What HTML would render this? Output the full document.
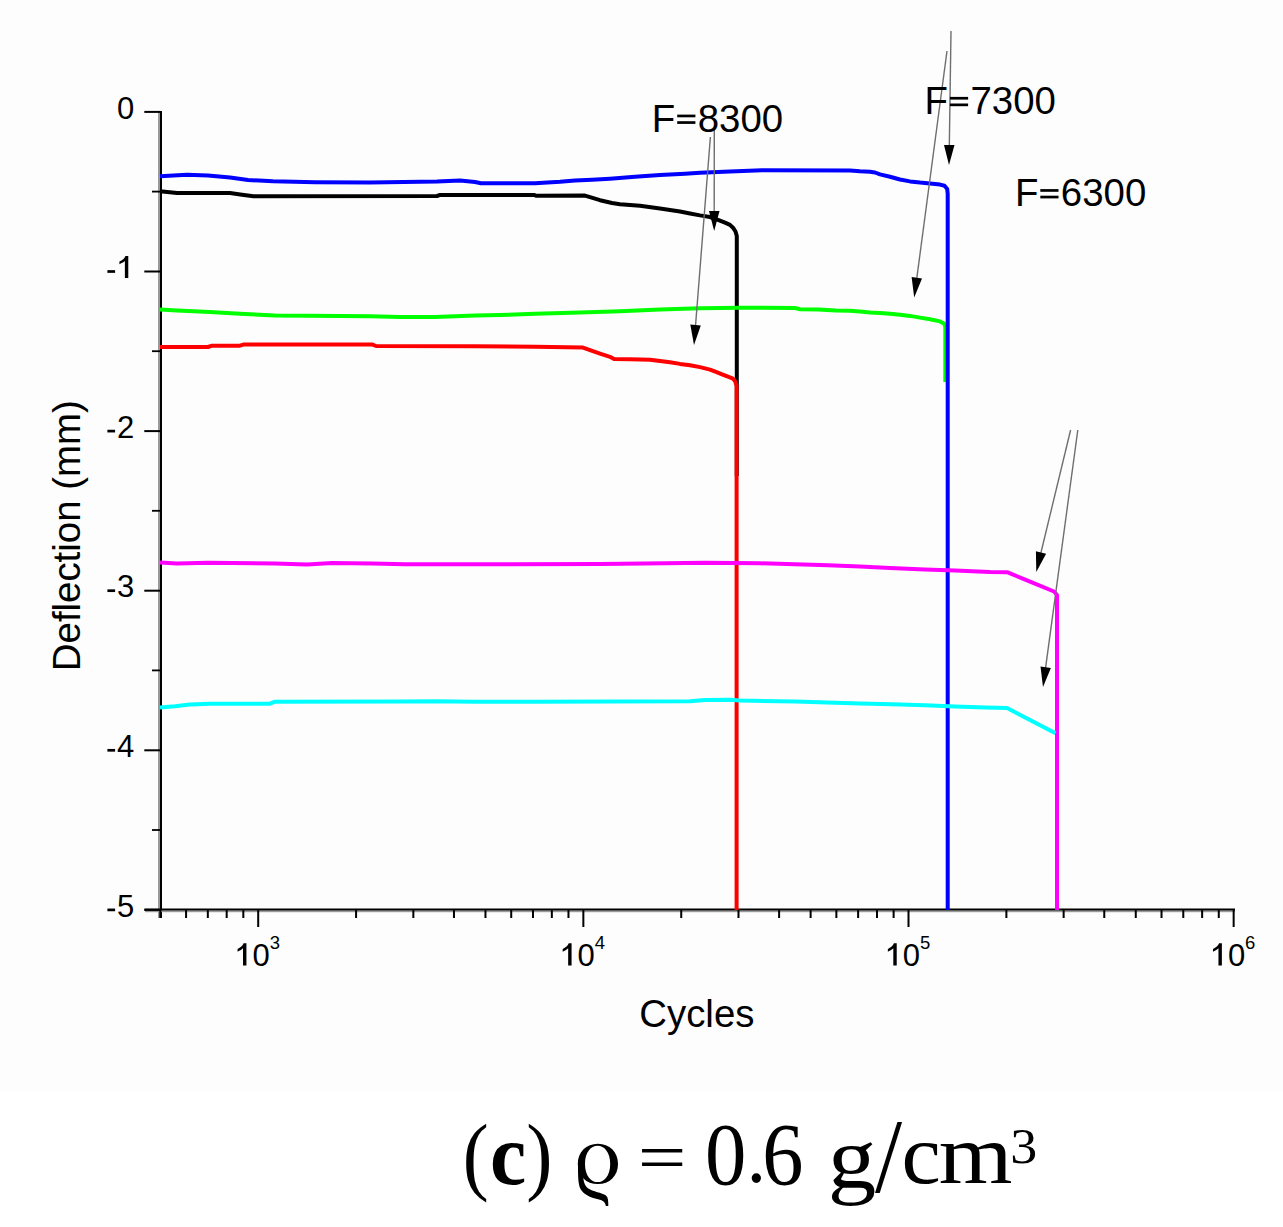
<!DOCTYPE html>
<html><head><meta charset="utf-8"><style>
html,body{margin:0;padding:0;background:#fff;}
body{width:1283px;height:1227px;overflow:hidden;}
svg{display:block;}
</style></head><body>
<svg width="1283" height="1227" viewBox="0 0 1283 1227">
<rect width="1283" height="1092" fill="#fdfdfd"/>
<rect x="158" y="111" width="2" height="807" fill="#9a9a9a"/>
<rect x="160" y="111" width="2" height="807" fill="#000"/>
<rect x="145" y="910.4" width="1090" height="1.8" fill="#9a9a9a"/>
<rect x="144.5" y="908.5" width="1090.5" height="2" fill="#000"/>
<rect x="144.3" y="110.90" width="16" height="2" fill="#000"/>
<rect x="152" y="190.70" width="8" height="1.8" fill="#000"/>
<rect x="144.3" y="270.50" width="16" height="2" fill="#000"/>
<rect x="152" y="350.30" width="8" height="1.8" fill="#000"/>
<rect x="144.3" y="430.10" width="16" height="2" fill="#000"/>
<rect x="152" y="509.90" width="8" height="1.8" fill="#000"/>
<rect x="144.3" y="589.70" width="16" height="2" fill="#000"/>
<rect x="152" y="669.50" width="8" height="1.8" fill="#000"/>
<rect x="144.3" y="749.30" width="16" height="2" fill="#000"/>
<rect x="152" y="829.10" width="8" height="1.8" fill="#000"/>
<rect x="144.3" y="908.90" width="16" height="2" fill="#000"/>
<rect x="159.32" y="909" width="2" height="9" fill="#000"/>
<rect x="185.07" y="909" width="2" height="9" fill="#000"/>
<rect x="206.83" y="909" width="2" height="9" fill="#000"/>
<rect x="225.69" y="909" width="2" height="9" fill="#000"/>
<rect x="242.32" y="909" width="2" height="9" fill="#000"/>
<rect x="257.20" y="909" width="2" height="18" fill="#000"/>
<rect x="355.08" y="909" width="2" height="9" fill="#000"/>
<rect x="412.34" y="909" width="2" height="9" fill="#000"/>
<rect x="452.96" y="909" width="2" height="9" fill="#000"/>
<rect x="484.47" y="909" width="2" height="9" fill="#000"/>
<rect x="510.22" y="909" width="2" height="9" fill="#000"/>
<rect x="531.98" y="909" width="2" height="9" fill="#000"/>
<rect x="550.84" y="909" width="2" height="9" fill="#000"/>
<rect x="567.47" y="909" width="2" height="9" fill="#000"/>
<rect x="582.35" y="909" width="2" height="18" fill="#000"/>
<rect x="680.23" y="909" width="2" height="9" fill="#000"/>
<rect x="737.49" y="909" width="2" height="9" fill="#000"/>
<rect x="778.11" y="909" width="2" height="9" fill="#000"/>
<rect x="809.62" y="909" width="2" height="9" fill="#000"/>
<rect x="835.37" y="909" width="2" height="9" fill="#000"/>
<rect x="857.13" y="909" width="2" height="9" fill="#000"/>
<rect x="875.99" y="909" width="2" height="9" fill="#000"/>
<rect x="892.62" y="909" width="2" height="9" fill="#000"/>
<rect x="907.50" y="909" width="2" height="18" fill="#000"/>
<rect x="1005.38" y="909" width="2" height="9" fill="#000"/>
<rect x="1062.64" y="909" width="2" height="9" fill="#000"/>
<rect x="1103.26" y="909" width="2" height="9" fill="#000"/>
<rect x="1134.77" y="909" width="2" height="9" fill="#000"/>
<rect x="1160.52" y="909" width="2" height="9" fill="#000"/>
<rect x="1182.28" y="909" width="2" height="9" fill="#000"/>
<rect x="1201.14" y="909" width="2" height="9" fill="#000"/>
<rect x="1217.77" y="909" width="2" height="9" fill="#000"/>
<rect x="1232.65" y="909" width="2" height="18" fill="#000"/>
<polyline points="160.0,191.2 177.0,193.0 230.0,193.0 242.0,194.7 253.5,196.2 437.0,196.0 440.0,194.9 534.0,194.9 536.0,195.8 585.0,195.6 600.0,200.2 612.0,203.0 620.0,204.2 640.0,205.8 660.0,208.5 680.0,211.5 690.0,213.5 700.0,215.4 710.0,217.0 718.0,219.8 725.0,222.6 730.0,224.9 733.0,227.7 735.5,231.5 736.8,236.0 736.8,476.0" fill="none" stroke="#000" stroke-width="4" stroke-linejoin="round" stroke-linecap="butt"/>
<polyline points="160.0,347.0 208.0,347.0 212.0,345.7 240.0,345.7 244.0,344.4 372.0,344.4 376.0,346.0 475.0,346.2 535.0,346.8 583.0,347.6 590.0,350.2 600.0,353.7 610.0,356.8 614.0,359.0 630.0,359.3 650.0,359.8 660.0,361.1 670.0,362.2 680.0,363.9 690.0,365.2 700.0,367.1 710.0,369.6 716.0,371.8 722.0,374.3 728.0,376.7 733.0,378.7 735.3,381.5 736.6,386.0 736.6,910.0" fill="none" stroke="#ff0000" stroke-width="4" stroke-linejoin="round" stroke-linecap="butt"/>
<polyline points="160.0,309.5 177.0,310.5 210.0,312.0 240.0,313.7 275.0,315.5 370.0,316.2 400.0,317.0 435.0,317.0 475.0,315.5 500.0,315.0 535.0,313.7 580.0,312.5 620.0,311.2 660.0,309.5 700.0,308.2 740.0,307.7 795.0,308.0 800.0,309.2 818.0,309.4 836.0,310.5 850.0,310.7 860.0,311.6 870.0,312.4 880.0,312.9 890.0,313.7 900.0,314.8 910.0,315.9 920.0,317.6 930.0,319.3 940.0,321.4 944.3,323.8 945.3,327.0 945.3,382.0" fill="none" stroke="#00ff00" stroke-width="4" stroke-linejoin="round" stroke-linecap="butt"/>
<polyline points="160.0,176.2 187.0,174.7 208.0,175.6 230.0,177.5 248.0,180.0 273.0,181.2 315.0,182.2 370.0,182.5 437.0,181.5 460.0,180.5 475.0,182.0 481.0,183.2 535.0,183.2 560.0,181.8 575.0,180.6 592.0,179.7 610.0,178.7 635.0,176.8 660.0,175.0 685.0,173.7 700.0,172.8 730.0,171.5 762.0,170.2 850.0,170.6 860.0,171.3 870.0,171.7 875.0,172.5 880.0,174.4 890.0,176.8 900.0,179.5 910.0,181.4 920.0,182.6 930.0,183.4 940.0,184.6 944.5,185.8 947.2,189.0 947.7,194.0 947.7,910.0" fill="none" stroke="#0000ff" stroke-width="4" stroke-linejoin="round" stroke-linecap="butt"/>
<polyline points="160.0,562.5 177.0,563.5 208.0,562.7 275.0,563.5 307.0,564.5 332.0,563.0 372.0,563.5 405.0,564.3 600.0,564.0 665.0,563.3 705.0,562.7 760.0,563.3 795.0,564.3 828.0,565.2 860.0,566.4 890.0,567.9 925.0,569.6 955.0,570.6 990.0,572.0 1007.0,572.2 1030.0,581.6 1054.0,591.5 1057.0,595.0 1057.0,910.0" fill="none" stroke="#ff00ff" stroke-width="4" stroke-linejoin="round" stroke-linecap="butt"/>
<polyline points="160.0,707.5 175.0,706.2 190.0,704.5 210.0,703.7 270.0,703.7 275.0,701.7 400.0,701.5 435.0,701.2 475.0,701.8 535.0,701.8 690.0,701.3 705.0,700.0 730.0,699.7 740.0,700.5 795.0,701.6 827.0,702.4 860.0,703.5 892.0,704.3 925.0,705.2 955.0,706.4 985.0,707.6 1007.0,708.0 1055.5,733.2" fill="none" stroke="#00ffff" stroke-width="4" stroke-linejoin="round" stroke-linecap="butt"/>
<line x1="714.3" y1="130.0" x2="714.2" y2="213.0" stroke="#6e6e6e" stroke-width="1.4"/>
<polygon points="714.2,231.0 709.0,211.0 719.5,211.0" fill="#000"/>
<line x1="710.4" y1="137.0" x2="695.4" y2="327.1" stroke="#6e6e6e" stroke-width="1.4"/>
<polygon points="694.0,345.0 690.3,324.6 700.8,325.5" fill="#000"/>
<line x1="951.0" y1="31.0" x2="949.3" y2="147.0" stroke="#6e6e6e" stroke-width="1.4"/>
<polygon points="949.0,165.0 944.0,144.9 954.5,145.1" fill="#000"/>
<line x1="947.0" y1="51.0" x2="916.6" y2="279.7" stroke="#6e6e6e" stroke-width="1.4"/>
<polygon points="914.2,297.5 911.6,277.0 922.0,278.4" fill="#000"/>
<line x1="1070.6" y1="430.0" x2="1040.5" y2="554.5" stroke="#6e6e6e" stroke-width="1.4"/>
<polygon points="1036.3,572.0 1035.9,551.3 1046.1,553.8" fill="#000"/>
<line x1="1077.8" y1="430.0" x2="1045.4" y2="669.2" stroke="#6e6e6e" stroke-width="1.4"/>
<polygon points="1043.0,687.0 1040.5,666.5 1050.9,667.9" fill="#000"/>
<text x="134.30" y="118.50" style="font-family:&quot;Liberation Sans&quot;,sans-serif;font-size:31px;font-weight:normal;font-kerning:none" text-anchor="end" >0</text>
<rect x="107.4" y="270.15" width="7.7" height="2.7" fill="#000"/>
<path transform="translate(117.06,278.10) scale(0.03100)" d="M362,0 L252,0 L252,-555 C231,-535 203,-515 168,-494 C133,-473 102,-458 76,-447 L76,-532 C122,-554 163,-580 198,-611 C233,-642 257,-680 271,-716 L362,-716 Z" fill="#000"/>
<rect x="107.4" y="429.75" width="7.7" height="2.7" fill="#000"/>
<text x="134.30" y="437.70" style="font-family:&quot;Liberation Sans&quot;,sans-serif;font-size:31px;font-weight:normal;font-kerning:none" text-anchor="end" >2</text>
<rect x="107.4" y="589.35" width="7.7" height="2.7" fill="#000"/>
<text x="134.30" y="597.30" style="font-family:&quot;Liberation Sans&quot;,sans-serif;font-size:31px;font-weight:normal;font-kerning:none" text-anchor="end" >3</text>
<rect x="107.4" y="748.95" width="7.7" height="2.7" fill="#000"/>
<text x="134.30" y="756.90" style="font-family:&quot;Liberation Sans&quot;,sans-serif;font-size:31px;font-weight:normal;font-kerning:none" text-anchor="end" >4</text>
<rect x="107.4" y="908.55" width="7.7" height="2.7" fill="#000"/>
<text x="134.30" y="916.50" style="font-family:&quot;Liberation Sans&quot;,sans-serif;font-size:31px;font-weight:normal;font-kerning:none" text-anchor="end" >5</text>
<path transform="translate(235.20,965.50) scale(0.03100)" d="M362,0 L252,0 L252,-555 C231,-535 203,-515 168,-494 C133,-473 102,-458 76,-447 L76,-532 C122,-554 163,-580 198,-611 C233,-642 257,-680 271,-716 L362,-716 Z" fill="#000"/>
<text x="252.44" y="965.50" style="font-family:&quot;Liberation Sans&quot;,sans-serif;font-size:31px;font-weight:normal;font-kerning:none" text-anchor="start" >0</text>
<text x="269.67" y="948.80" style="font-family:&quot;Liberation Sans&quot;,sans-serif;font-size:18.5px;font-weight:normal;font-kerning:none" text-anchor="start" >3</text>
<path transform="translate(560.35,965.50) scale(0.03100)" d="M362,0 L252,0 L252,-555 C231,-535 203,-515 168,-494 C133,-473 102,-458 76,-447 L76,-532 C122,-554 163,-580 198,-611 C233,-642 257,-680 271,-716 L362,-716 Z" fill="#000"/>
<text x="577.59" y="965.50" style="font-family:&quot;Liberation Sans&quot;,sans-serif;font-size:31px;font-weight:normal;font-kerning:none" text-anchor="start" >0</text>
<text x="594.82" y="948.80" style="font-family:&quot;Liberation Sans&quot;,sans-serif;font-size:18.5px;font-weight:normal;font-kerning:none" text-anchor="start" >4</text>
<path transform="translate(885.50,965.50) scale(0.03100)" d="M362,0 L252,0 L252,-555 C231,-535 203,-515 168,-494 C133,-473 102,-458 76,-447 L76,-532 C122,-554 163,-580 198,-611 C233,-642 257,-680 271,-716 L362,-716 Z" fill="#000"/>
<text x="902.74" y="965.50" style="font-family:&quot;Liberation Sans&quot;,sans-serif;font-size:31px;font-weight:normal;font-kerning:none" text-anchor="start" >0</text>
<text x="919.97" y="948.80" style="font-family:&quot;Liberation Sans&quot;,sans-serif;font-size:18.5px;font-weight:normal;font-kerning:none" text-anchor="start" >5</text>
<path transform="translate(1210.65,965.50) scale(0.03100)" d="M362,0 L252,0 L252,-555 C231,-535 203,-515 168,-494 C133,-473 102,-458 76,-447 L76,-532 C122,-554 163,-580 198,-611 C233,-642 257,-680 271,-716 L362,-716 Z" fill="#000"/>
<text x="1227.89" y="965.50" style="font-family:&quot;Liberation Sans&quot;,sans-serif;font-size:31px;font-weight:normal;font-kerning:none" text-anchor="start" >0</text>
<text x="1245.12" y="948.80" style="font-family:&quot;Liberation Sans&quot;,sans-serif;font-size:18.5px;font-weight:normal;font-kerning:none" text-anchor="start" >6</text>
<text x="639.25" y="1026.50" style="font-family:&quot;Liberation Sans&quot;,sans-serif;font-size:38.4px;font-weight:normal;font-kerning:none" text-anchor="start" >Cycles</text>
<text transform="translate(79.5,671.2) rotate(-90)" x="0" y="0" style="font-family:&quot;Liberation Sans&quot;,sans-serif;font-size:38.4px;font-kerning:none">Deflection (mm)</text>
<text x="651.85" y="131.50" style="font-family:&quot;Liberation Sans&quot;,sans-serif;font-size:38.4px;font-weight:normal;font-kerning:none" text-anchor="start" >F</text>
<rect x="677.21" y="114.60" width="18.2" height="2.7" fill="#000"/>
<rect x="677.21" y="121.20" width="18.2" height="2.7" fill="#000"/>
<text x="697.74" y="131.50" style="font-family:&quot;Liberation Sans&quot;,sans-serif;font-size:38.4px;font-weight:normal;font-kerning:none" text-anchor="start" >8300</text>
<text x="924.55" y="113.80" style="font-family:&quot;Liberation Sans&quot;,sans-serif;font-size:38.4px;font-weight:normal;font-kerning:none" text-anchor="start" >F</text>
<rect x="949.91" y="96.90" width="18.2" height="2.7" fill="#000"/>
<rect x="949.91" y="103.50" width="18.2" height="2.7" fill="#000"/>
<text x="970.44" y="113.80" style="font-family:&quot;Liberation Sans&quot;,sans-serif;font-size:38.4px;font-weight:normal;font-kerning:none" text-anchor="start" >7300</text>
<text x="1014.95" y="206.00" style="font-family:&quot;Liberation Sans&quot;,sans-serif;font-size:38.4px;font-weight:normal;font-kerning:none" text-anchor="start" >F</text>
<rect x="1040.31" y="189.10" width="18.2" height="2.7" fill="#000"/>
<rect x="1040.31" y="195.70" width="18.2" height="2.7" fill="#000"/>
<text x="1060.84" y="206.00" style="font-family:&quot;Liberation Sans&quot;,sans-serif;font-size:38.4px;font-weight:normal;font-kerning:none" text-anchor="start" >6300</text>
<text transform="translate(462.68,1183.64) scale(0.7787,0.8624)" x="0" y="0" style="font-family:&quot;Liberation Serif&quot;,serif;font-size:100px;font-weight:normal;font-kerning:none">(</text>
<text transform="translate(489.91,1184.09) scale(0.8161,0.8762)" x="0" y="0" style="font-family:&quot;Liberation Serif&quot;,serif;font-size:100px;font-weight:bold;font-kerning:none">c</text>
<text transform="translate(526.27,1183.64) scale(0.7865,0.8624)" x="0" y="0" style="font-family:&quot;Liberation Serif&quot;,serif;font-size:100px;font-weight:normal;font-kerning:none">)</text>
<path fill-rule="evenodd" d="M597.9,1143.8 C609.5,1143.8 618,1152 618,1163.9 C618,1175.8 609.5,1184 597.9,1184 C586.3,1184 577.8,1175.8 577.8,1163.9 C577.8,1152 586.3,1143.8 597.9,1143.8 Z M597.6,1145.7 C591,1145.7 585,1152 585,1163.9 C585,1175.8 591,1182.1 597.6,1182.1 C604.2,1182.1 610.2,1175.8 610.2,1163.9 C610.2,1152 604.2,1145.7 597.6,1145.7 Z" fill="#000"/>
<path d="M578,1166 L582.8,1166 C582.8,1176 583,1184 587.5,1188 C593,1192 602,1192.5 606,1195.5 C608.3,1197.5 608.3,1201 608.3,1206 L605.8,1206 C605.5,1202.5 603.5,1200.5 598,1199.2 C590,1197.5 584,1194.5 580.8,1189.5 C578.2,1185 578,1177 578,1166 Z" fill="#000"/>
<text transform="translate(637.70,1180.16) scale(0.8639,0.6840)" x="0" y="0" style="font-family:&quot;Liberation Serif&quot;,serif;font-size:100px;font-weight:normal;font-kerning:none">=</text>
<text transform="translate(705.05,1183.74) scale(0.8282,0.8817)" x="0" y="0" style="font-family:&quot;Liberation Serif&quot;,serif;font-size:100px;font-weight:normal;font-kerning:none">0</text>
<text transform="translate(746.51,1182.43) scale(0.7870,0.8294)" x="0" y="0" style="font-family:&quot;Liberation Serif&quot;,serif;font-size:100px;font-weight:normal;font-kerning:none">.</text>
<text transform="translate(762.26,1183.64) scale(0.8239,0.8856)" x="0" y="0" style="font-family:&quot;Liberation Serif&quot;,serif;font-size:100px;font-weight:normal;font-kerning:none">6</text>
<text transform="translate(827.83,1187.37) scale(0.9703,0.8587)" x="0" y="0" style="font-family:&quot;Liberation Serif&quot;,serif;font-size:100px;font-weight:normal;font-kerning:none">g</text>
<text transform="translate(874.90,1191.96) scale(0.9754,1.0629)" x="0" y="0" style="font-family:&quot;Liberation Serif&quot;,serif;font-size:100px;font-weight:normal;font-kerning:none">/</text>
<text transform="translate(901.53,1183.18) scale(0.8853,0.8442)" x="0" y="0" style="font-family:&quot;Liberation Serif&quot;,serif;font-size:100px;font-weight:normal;font-kerning:none">c</text>
<text transform="translate(938.81,1183.20) scale(0.9484,0.8447)" x="0" y="0" style="font-family:&quot;Liberation Serif&quot;,serif;font-size:100px;font-weight:normal;font-kerning:none">m</text>
<text transform="translate(1010.32,1162.70) scale(0.5398,0.5135)" x="0" y="0" style="font-family:&quot;Liberation Serif&quot;,serif;font-size:100px;font-weight:normal;font-kerning:none">3</text>
</svg>
</body></html>
